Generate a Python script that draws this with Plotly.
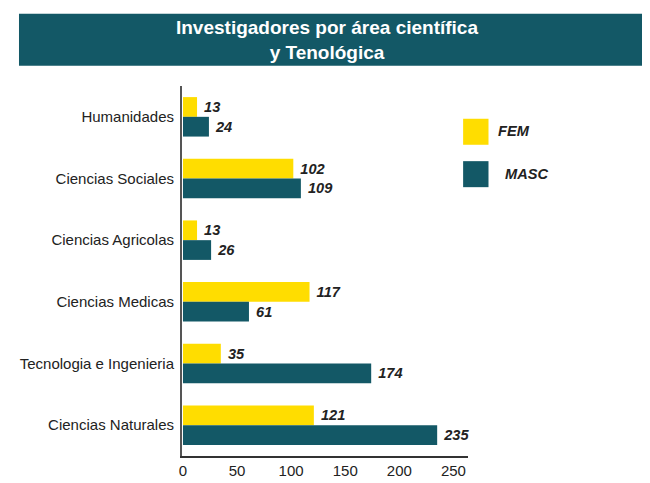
import plotly.graph_objects as go

categories = ["Humanidades", "Ciencias Sociales", "Ciencias Agricolas",
              "Ciencias Medicas", "Tecnologia e Ingenieria", "Ciencias Naturales"]
fem = [13, 102, 13, 117, 35, 121]
masc = [24, 109, 26, 61, 174, 235]
tick_vals = [0, 50, 100, 150, 200, 250]

YELLOW = "#FFDD00"
TEAL = "#135866"
TXT = "#222222"
FONT = "Liberation Sans, Arial, sans-serif"

fig = go.Figure()
fig.add_trace(go.Bar(
    y=categories, x=fem, orientation="h", name="FEM",
    marker=dict(color=YELLOW, line=dict(width=0)),
    text=fem, texttemplate=" %{text}", textposition="outside", cliponaxis=False,
    textfont=dict(family=FONT, size=14.6, color=TXT, style="italic", weight="bold"),
))
fig.add_trace(go.Bar(
    y=categories, x=masc, orientation="h", name="MASC",
    marker=dict(color=TEAL, line=dict(width=0)),
    text=masc, texttemplate=" %{text}", textposition="outside", cliponaxis=False,
    textfont=dict(family=FONT, size=14.6, color=TXT, style="italic", weight="bold"),
))

W, H = 650, 483
L, R, T, B = 167, 190, 78, 21
pw, ph = W - L - R, H - T - B

def px(x):
    return (x - L) / pw

def py(y):
    return (H - B - y) / ph

shapes = [
    dict(type="rect", xref="paper", yref="paper",
         x0=px(0), x1=px(650), y0=py(57), y1=py(3),
         fillcolor=TEAL, line=dict(width=0), layer="below"),
    dict(type="rect", xref="paper", yref="paper",
         x0=px(455), x1=px(481), y0=py(139), y1=py(112),
         fillcolor=YELLOW, line=dict(width=0)),
    dict(type="rect", xref="paper", yref="paper",
         x0=px(455), x1=px(481), y0=py(183), y1=py(156),
         fillcolor=TEAL, line=dict(width=0)),
]
annotations = [
    dict(xref="paper", yref="paper", x=px(489), y=py(125), text="FEM",
         showarrow=False, xanchor="left", yanchor="middle",
         font=dict(family=FONT, size=14.6, color=TXT, style="italic", weight="bold")),
    dict(xref="paper", yref="paper", x=px(496), y=py(169), text="MASC",
         showarrow=False, xanchor="left", yanchor="middle",
         font=dict(family=FONT, size=14.6, color=TXT, style="italic", weight="bold")),
]

fig.update_layout(
    width=W, height=H, autosize=False,
    margin=dict(l=L, r=R, t=T, b=B, pad=0),
    paper_bgcolor="white", plot_bgcolor="white",
    barmode="group", bargap=0.36, bargroupgap=0.0,
    showlegend=False,
    title=dict(text="<b>Investigadores por área científica<br>y Tenológica</b>",
               x=319 / W, xanchor="center", y=1 - 26 / H, yanchor="middle",
               font=dict(family=FONT, size=19, color="white")),
    shapes=shapes, annotations=annotations,
    xaxis=dict(range=[-0.9, 263.5], tickvals=tick_vals, showgrid=False,
               zeroline=False, showline=True, linecolor="#333333", linewidth=1.5,
               ticks="", tickfont=dict(family=FONT, size=15, color=TXT)),
    yaxis=dict(autorange="reversed", showgrid=False, zeroline=False,
               showline=True, linecolor="#555555", linewidth=2, ticks="",
               ticklabelstandoff=3,
               tickfont=dict(family=FONT, size=15, color=TXT)),
)

fig.write_html("out.html", post_script="document.body.style.overflow='hidden';")
